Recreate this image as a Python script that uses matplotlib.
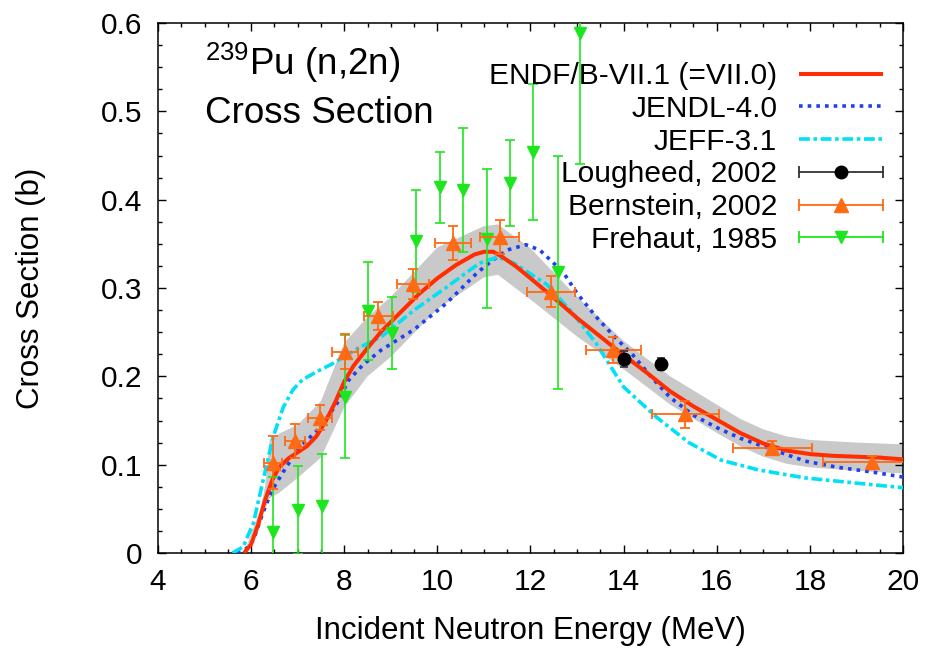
"""
239Pu (n,2n) cross section: evaluations vs. measurements
"""
import matplotlib
matplotlib.use("Agg")
import matplotlib.pyplot as plt
from matplotlib.lines import Line2D
from matplotlib.legend_handler import HandlerLine2D, HandlerTuple
from matplotlib.ticker import MultipleLocator

plt.rcParams['font.family'] = ['Liberation Sans', 'DejaVu Sans']
plt.rcParams['mathtext.fontset'] = 'custom'
plt.rcParams['mathtext.rm'] = 'Liberation Sans'

# ENDF/B-VII.1 evaluation
endf_e = [5.85, 6.0, 6.15, 6.3, 6.45, 6.6, 6.8, 7.0, 7.2, 7.4, 7.6, 7.8, 8.0, 8.2,
          8.5, 8.8, 9.2, 9.6, 10.0, 10.4, 10.8, 11.0, 11.2, 11.4, 11.7, 12.0, 12.5,
          13.0, 13.5, 14.0, 14.5, 15.0, 15.5, 16.0, 16.5, 17.0, 17.5, 18.0, 18.5,
          19.0, 19.5, 20.0]
endf_xs = [0.0, 0.010, 0.032, 0.060, 0.082, 0.097, 0.107, 0.114, 0.121, 0.132, 0.149,
           0.170, 0.194, 0.212, 0.232, 0.251, 0.272, 0.293, 0.311, 0.326, 0.338, 0.341,
           0.341, 0.335, 0.324, 0.311, 0.289, 0.266, 0.245, 0.224, 0.204, 0.183, 0.166,
           0.151, 0.136, 0.124, 0.116, 0.112, 0.110, 0.109, 0.108, 0.106]

# ENDF/B-VII.1 uncertainty band
band_e = [5.85, 6.2, 6.3, 6.4, 6.6, 7.0, 7.5, 8.0, 8.5, 9.0, 10.0, 11.0, 11.3, 12.0,
          13.0, 14.0, 15.0, 16.0, 16.5, 17.0, 17.5, 18.0, 19.0, 20.0]
band_lo = [0.0, 0.040, 0.050, 0.062, 0.068, 0.085, 0.108, 0.165, 0.200, 0.222, 0.276,
           0.312, 0.315, 0.287, 0.245, 0.208, 0.168, 0.136, 0.121, 0.109, 0.101, 0.097,
           0.093, 0.090]
band_hi = [0.0, 0.050, 0.075, 0.128, 0.135, 0.145, 0.172, 0.238, 0.267, 0.290, 0.346,
           0.370, 0.372, 0.345, 0.290, 0.240, 0.200, 0.168, 0.152, 0.140, 0.132, 0.128,
           0.125, 0.123]

# JENDL-4.0
jendl_e = [5.7, 5.9, 6.05, 6.25, 6.45, 6.75, 7.05, 7.5, 7.85, 8.1, 8.4, 8.8, 9.5,
           10.2, 10.85, 11.15, 11.5, 11.9, 12.2, 12.7, 13.0, 13.4, 13.8, 14.2, 14.6,
           15.0, 15.5, 16.0, 16.5, 17.2, 17.9, 18.6, 19.3, 20.0]
jendl_xs = [0.0, 0.005, 0.015, 0.045, 0.071, 0.097, 0.120, 0.143, 0.170, 0.196, 0.213,
            0.230, 0.253, 0.283, 0.317, 0.330, 0.343, 0.349, 0.343, 0.318, 0.294,
            0.268, 0.245, 0.224, 0.199, 0.176, 0.156, 0.142, 0.130, 0.117, 0.104,
            0.097, 0.092, 0.086]

# JEFF-3.1
jeff_e = [5.6, 5.83, 6.05, 6.26, 6.47, 6.69, 6.9, 7.1, 7.4, 7.7, 8.0, 8.3, 8.8, 9.5,
          10.2, 10.9, 11.3, 11.65, 12.35, 12.9, 13.4, 14.0, 14.7, 15.4, 16.1, 16.9,
          17.9, 19.4, 20.0]
jeff_xs = [0.0, 0.007, 0.034, 0.083, 0.131, 0.165, 0.185, 0.196, 0.205, 0.213, 0.222,
           0.232, 0.245, 0.275, 0.301, 0.328, 0.335, 0.328, 0.304, 0.272, 0.238, 0.188,
           0.154, 0.125, 0.105, 0.094, 0.085, 0.077, 0.074]

# Lougheed, 2002
lou_e = [14.0, 14.8]
lou_xs = [0.220, 0.214]
lou_de = [0.05, 0.05]
lou_dxs = [0.009, 0.007]

# Bernstein, 2002
ber_e = [6.47, 6.94, 7.48, 8.02, 8.73, 9.48, 10.34, 11.34, 12.44, 13.78, 15.32, 17.19, 19.34]
ber_xs = [0.102, 0.127, 0.153, 0.228, 0.268, 0.305, 0.351, 0.358, 0.296, 0.230, 0.157,
          0.119, 0.103]
ber_de = [0.20, 0.21, 0.26, 0.28, 0.31, 0.34, 0.39, 0.42, 0.52, 0.59, 0.72, 0.85, 1.06]
ber_dxs = [0.030, 0.019, 0.014, 0.020, 0.016, 0.017, 0.019, 0.019, 0.018, 0.015, 0.015,
           0.008, 0.007]

# Frehaut, 1985
fre_e = [6.47, 7.0, 7.52, 8.02, 8.51, 9.03, 9.55, 10.06, 10.55, 11.06, 11.56, 12.05, 12.59, 13.06]
fre_xs = [0.024, 0.049, 0.053, 0.177, 0.274, 0.249, 0.353, 0.414, 0.411, 0.356, 0.419,
          0.454, 0.318, 0.589]
fre_dxs = [0.062, 0.050, 0.059, 0.070, 0.055, 0.041, 0.058, 0.040, 0.070, 0.079, 0.049,
           0.077, 0.132, 0.149]

xticks = [4, 6, 8, 10, 12, 14, 16, 18, 20]
yticks = [0, 0.1, 0.2, 0.3, 0.4, 0.5, 0.6]
yticklabels = ['0', '0.1', '0.2', '0.3', '0.4', '0.5', '0.6']

RED = '#ff2d00'
BLUE = '#1f3ff0'
CYAN = '#00e1f5'
ORANGE = '#ff6a14'
GREEN = '#1ee61e'

FS = 21.5

fig = plt.figure(figsize=(9.28, 6.52), dpi=100)
ax = fig.add_axes([158 / 928, 99 / 652, 745 / 928, 530 / 652])

ax.fill_between(band_e, band_lo, band_hi, facecolor='#c9c9c9', edgecolor='none', zorder=1)

endf_line, = ax.plot(endf_e, endf_xs, color=RED, lw=2.9, zorder=4, solid_capstyle='butt')
jendl_line, = ax.plot(jendl_e, jendl_xs, color=BLUE, lw=2.6, ls=(0, (1, 1.4)), zorder=3)
jeff_line, = ax.plot(jeff_e, jeff_xs, color=CYAN, lw=2.6, ls=(0, (3.0, 1, 1, 1)), zorder=3)

ax.errorbar(fre_e, fre_xs, yerr=fre_dxs, fmt='v', color=GREEN, ms=9, elinewidth=1.2,
            capsize=3.5, capthick=1.2, zorder=5)
ax.errorbar(ber_e, ber_xs, xerr=ber_de, yerr=ber_dxs, fmt='^', color=ORANGE, ms=9.5,
            elinewidth=1.3, capsize=3.5, capthick=1.3, zorder=6)
ax.errorbar(lou_e, lou_xs, xerr=lou_de, yerr=lou_dxs, fmt='o', color='black',
            ecolor='#333333', ms=9, elinewidth=1.2, capsize=3, capthick=1.2, zorder=7)

ax.set_xlim(4, 20)
ax.set_ylim(0, 0.6)
ax.set_xticks(xticks)
ax.set_xticklabels([str(t) for t in xticks])
ax.set_yticks(yticks)
ax.set_yticklabels(yticklabels)
ax.xaxis.set_minor_locator(MultipleLocator(0.5))
ax.yaxis.set_minor_locator(MultipleLocator(0.025))
ax.tick_params(which='both', direction='in', top=True, right=True, width=1.0,
               labelsize=FS)
ax.tick_params(which='major', length=5.8, pad=11)
ax.tick_params(which='minor', length=2.9)
for sp in ax.spines.values():
    sp.set_linewidth(1.1)

ax.set_xlabel('Incident Neutron Energy (MeV)', fontsize=22.5)
ax.set_ylabel('Cross Section (b)', fontsize=22.5)
ax.xaxis.set_label_coords(0.5, -0.118)
ax.yaxis.set_label_coords(-0.15, 0.5)

ax.text(0.063, 0.902, r'$\mathregular{^{239}}$Pu (n,2n)', transform=ax.transAxes,
        fontsize=26.5, va='baseline', ha='left')
ax.text(0.063, 0.811, 'Cross Section', transform=ax.transAxes,
        fontsize=26.5, va='baseline', ha='left')


def exp_handle(color, bar_color, marker, ms):
    bar = Line2D([], [], color=bar_color, lw=1.3, marker='|', ms=8, mew=1.3)
    mk = Line2D([], [], color=color, ls='none', marker=marker, ms=ms)
    return (bar, mk), bar


lou_h, lou_bar = exp_handle('black', '#333333', 'o', 9)
ber_h, ber_bar = exp_handle(ORANGE, ORANGE, '^', 9.5)
fre_h, fre_bar = exp_handle(GREEN, GREEN, 'v', 9)
hmap = {b: HandlerLine2D(numpoints=2, marker_pad=0) for b in (lou_bar, ber_bar, fre_bar)}
hmap[tuple] = HandlerTuple(ndivide=1)

leg = ax.legend([endf_line, jendl_line, jeff_line, lou_h, ber_h, fre_h],
                ['ENDF/B-VII.1 (=VII.0)', 'JENDL-4.0', 'JEFF-3.1', 'Lougheed, 2002',
                 'Bernstein, 2002', 'Frehaut, 1985'],
                handler_map=hmap, loc='upper right', markerfirst=False, frameon=False,
                fontsize=FS, borderpad=0, borderaxespad=0, handlelength=2.8,
                handletextpad=0.74, labelspacing=0.16,
                bbox_to_anchor=(883 / 928, (652 - 62) / 652),
                bbox_transform=fig.transFigure)

fig.savefig('out.png', dpi=100)
